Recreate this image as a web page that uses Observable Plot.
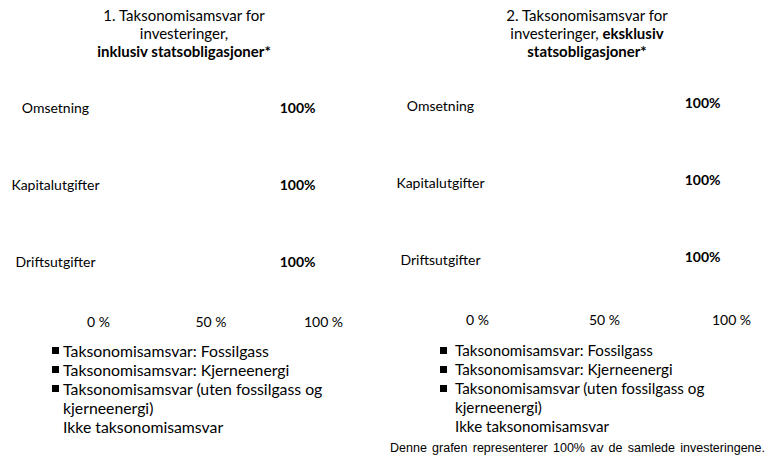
<!DOCTYPE html>
<html>
<head>
<meta charset="utf-8">
<script src="https://cdn.jsdelivr.net/npm/d3@7"></script>
<script src="https://cdn.jsdelivr.net/npm/@observablehq/plot@0.6"></script>
<style>
  html, body { margin: 0; padding: 0; background: #fff; }
  body { width: 769px; height: 459px; position: relative; overflow: hidden; font-family: Lato, "Open Sans", sans-serif; color: #000; }
  .panel { position: absolute; top: 0; height: 459px; }
  .title { position: absolute; top: 6px; width: 300px; text-align: center; font-size: 15px; line-height: 18px; white-space: nowrap; }
  .chart { position: absolute; top: 62px; left: 0; }
  .legend { position: absolute; top: 341px; line-height: 19px; }
  .item { position: relative; }
  .sw { position: absolute; width: 7px; height: 7px; top: 6px; }
  .foot { position: absolute; left: 390px; top: 441px; width: 375px; font-family: "Liberation Sans", Arial, sans-serif; font-size: 12.5px; text-align: justify; text-align-last: justify; }
</style>
</head>
<body>
<div id="p1" class="panel" style="left:0;width:385px"></div>
<div id="p2" class="panel" style="left:385px;width:384px"></div>
<div class="foot">Denne grafen representerer 100% av de samlede investeringene.</div>
<script>
// ---- data ----
const categories = ["Omsetning", "Kapitalutgifter", "Driftsutgifter"];
const seriesNames = [
  "Taksonomisamsvar: Fossilgass",
  "Taksonomisamsvar: Kjerneenergi",
  "Taksonomisamsvar (uten fossilgass og kjerneenergi)",
  "Ikke taksonomisamsvar"
];
const seriesColors = ["#000000", "#000000", "#000000", "#ffffff"];
// Panel 1: inklusiv statsobligasjoner
const fossilIncl = [0, 0, 0];
const nuclearIncl = [0, 0, 0];
const alignedIncl = [0, 0, 0];
const notAlignedIncl = [100, 100, 100];
// Panel 2: eksklusiv statsobligasjoner
const fossilExcl = [0, 0, 0];
const nuclearExcl = [0, 0, 0];
const alignedExcl = [0, 0, 0];
const notAlignedExcl = [100, 100, 100];
const xTicks = [0, 50, 100];
const totalLabels = ["100%", "100%", "100%"];

function buildRows(arrs) {
  const rows = [];
  categories.forEach((c, i) => {
    arrs.forEach((a, s) => rows.push({category: c, series: seriesNames[s], value: a[i]}));
  });
  return rows;
}

function makeChart(el, arrs, opt) {
  const rows = buildRows(arrs);
  const totals = categories.map((c, i) => ({category: c, total: arrs.reduce((s, a) => s + a[i], 0), label: totalLabels[i]}));
  const chart = Plot.plot({
    width: opt.width,
    height: 275,
    marginLeft: opt.marginLeft,
    marginRight: opt.marginRight,
    marginTop: opt.marginTop,
    marginBottom: 275 - opt.marginTop - 231,
    style: {fontFamily: "Lato, 'Open Sans', sans-serif", fontSize: "14px", color: "#000", background: "#fff"},
    x: {domain: [0, 100]},
    y: {domain: categories, padding: 0},
    color: {domain: seriesNames, range: seriesColors},
    marks: [
      Plot.barX(rows, Plot.stackX({x: "value", y: "category", fill: "series", order: seriesNames})),
      Plot.text(totals, {x: "total", y: "category", text: "label", textAnchor: "end", dx: opt.labelDx, dy: opt.labelDy, fontWeight: "bold", fontSize: 14, fill: "#000"}),
      Plot.axisX({ticks: xTicks, tickFormat: d => d + " %", tickSize: 0, tickPadding: 16, fontSize: 14, label: null}),
      Plot.axisY({tickSize: 0, tickPadding: opt.yPad, textAnchor: "middle", fontSize: 14, label: null})
    ]
  });
  chart.classList.add("chart");
  el.appendChild(chart);
}

function addTitle(el, html, left) {
  const t = document.createElement("div");
  t.className = "title";
  t.style.left = left + "px";
  t.innerHTML = html;
  el.appendChild(t);
}

function addLegend(el, swLeft, textLeft, fontSize) {
  const lg = document.createElement("div");
  lg.className = "legend";
  lg.style.left = swLeft + "px";
  lg.style.fontSize = fontSize + "px";
  seriesNames.forEach((name, i) => {
    const it = document.createElement("div");
    it.className = "item";
    it.style.paddingLeft = (textLeft - swLeft) + "px";
    it.style.width = "262px";
    const sw = document.createElement("span");
    sw.className = "sw";
    sw.style.left = "0px";
    sw.style.background = seriesColors[i];
    it.appendChild(sw);
    it.appendChild(document.createTextNode(name));
    lg.appendChild(it);
  });
  el.appendChild(lg);
}

const p1 = document.getElementById("p1");
const p2 = document.getElementById("p2");
addTitle(p1, "1. Taksonomisamsvar for<br>investeringer,<br><b>inklusiv statsobligasjoner*</b>", 34);
addTitle(p2, "2. Taksonomisamsvar for<br>investeringer, <b>eksklusiv</b><br><b>statsobligasjoner*</b>", 52);
makeChart(p1, [fossilIncl, nuclearIncl, alignedIncl, notAlignedIncl], {width: 385, marginLeft: 98, marginRight: 62, marginTop: 7.5, labelDx: -8, labelDy: 0, yPad: 43});
makeChart(p2, [fossilExcl, nuclearExcl, alignedExcl, notAlignedExcl], {width: 384, marginLeft: 92, marginRight: 38, marginTop: 6, labelDx: -11, labelDy: -3, yPad: 37});
addLegend(p1, 52, 63, 15.8);
addLegend(p2, 55, 70, 15.2);
</script>
</body>
</html>
